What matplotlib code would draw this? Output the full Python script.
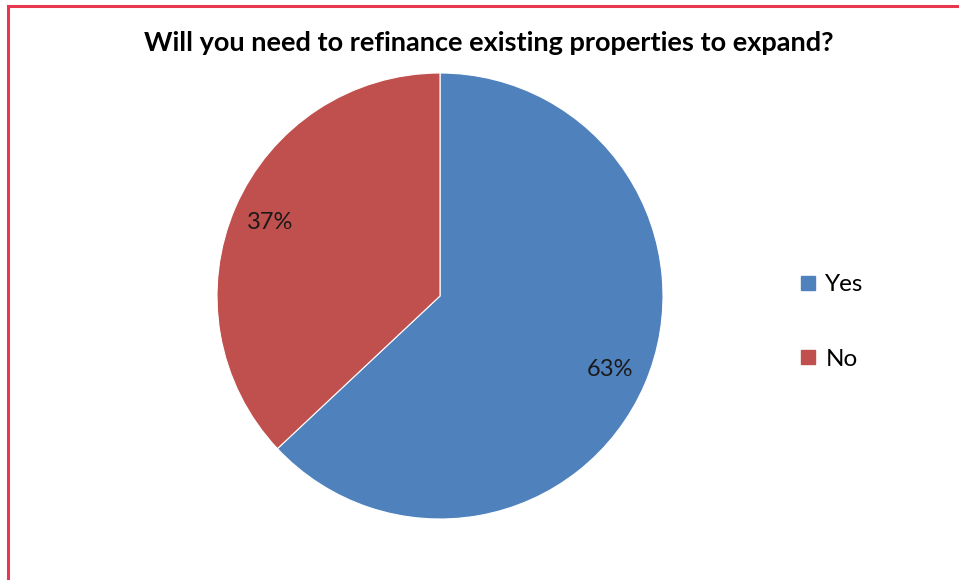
import matplotlib
matplotlib.use("Agg")
import matplotlib.pyplot as plt
from matplotlib.patches import Rectangle
from matplotlib.lines import Line2D

categories = ["Yes", "No"]
shares = [63, 37]
colors = ["#4F81BD", "#C0504D"]
title = "Will you need to refinance existing properties to expand?"

plt.rcParams["font.family"] = ["Lato", "DejaVu Sans"]

W, H = 959, 580
fig = plt.figure(figsize=(W / 100, H / 100), dpi=100)
fig.patch.set_facecolor("white")

# red frame around the chart area (runs off the right and bottom edges)
fig.add_artist(Rectangle((8 / W, -0.05), 1.1, (H - 6) / H + 0.05,
                         transform=fig.transFigure, fill=False,
                         edgecolor="#E8384F", linewidth=2.2, zorder=0))

# pie centred at (440, 296) px with radius 223 px
r = 223
cx, cy = 440, 296
ax = fig.add_axes([(cx - r) / W, (H - cy - r) / H, 2 * r / W, 2 * r / H])
wedges, texts, autotexts = ax.pie(
    shares, colors=colors, startangle=90, counterclock=False,
    autopct=lambda p: f"{p:.0f}%", pctdistance=0.83,
    wedgeprops=dict(edgecolor="white", linewidth=0.8),
    textprops=dict(fontsize=17, color="#1a1a1a"))
ax.set_aspect("equal")
ax.set_xlim(-1, 1)
ax.set_ylim(-1, 1)

fig.text(489 / W, 1 - 43 / H, title, ha="center", va="center",
         fontsize=19.5, fontweight="bold", color="black")

handles = [Line2D([], [], marker="s", linestyle="none", markersize=9.5,
                  markerfacecolor=c, markeredgecolor=c) for c in colors]
fig.legend(handles, categories, loc="center left",
           bbox_to_anchor=(778 / W, 1 - 322 / H), frameon=False,
           fontsize=17.5, labelspacing=2.2, handlelength=0.7,
           handletextpad=0.35)

fig.savefig("out.png", dpi=100, facecolor="white")
